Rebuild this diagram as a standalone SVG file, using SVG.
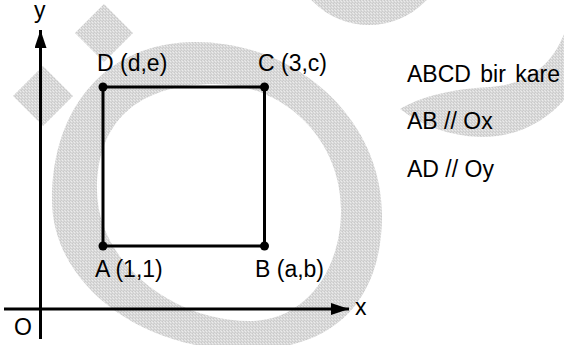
<svg xmlns="http://www.w3.org/2000/svg" width="564" height="345" viewBox="0 0 564 345">
  <style>
    .wm { fill: url(#stip); }
    .ln { stroke: #000; stroke-width: 3; fill: none; }
    .dot { fill: #000; }
    .t { font-family: "Liberation Sans", Arial, sans-serif; font-size: 23px; fill: #000; }
  </style>
  <defs>
    <pattern id="stip" width="3" height="3" patternUnits="userSpaceOnUse">
      <rect width="3" height="3" fill="#d8d8d8"/>
      <rect x="0" y="0" width="1" height="1" fill="#c8c8c8"/>
      <rect x="2" y="1" width="1" height="1" fill="#ececec"/>
      <rect x="1" y="2" width="1" height="1" fill="#cccccc"/>
      <rect x="1" y="0" width="1" height="1" fill="#e4e4e4"/>
    </pattern>
    <marker id="arr" viewBox="0 0 18 12" refX="18" refY="6" markerWidth="18" markerHeight="12" markerUnits="userSpaceOnUse" orient="auto">
      <path d="M0,0 L18,6 L0,12 Z" fill="#000"/>
    </marker>
  </defs>
  <rect width="564" height="345" fill="#fff"/>
  <g id="watermark">
    <path class="wm" fill-rule="evenodd" d="M195,42 C298,42 382,120 382,215 C382,301 334,350 245,350 C138,350 52,282 52,200 C52,105 109,42 195,42 Z M215,84 C138,84 97,121 97,190 C97,260 170,321 250,321 C303,321 341,273 341,210 C341,140 285,84 215,84 Z"/>
    <circle class="wm" cx="369" cy="-54" r="79"/>
    <path class="wm" d="M400,109 C420,97 450,89 490,87 C522,85 550,70 564,34 L564,100 C545,122 515,138 480,137 C450,136 422,126 400,109 Z"/>
    <polygon class="wm" points="104,4 133,33 104,62 75,33"/>
    <polygon class="wm" points="43,66 73,96 43,126 13,96"/>
  </g>
  <g id="axes">
    <line class="ln" x1="4" y1="309" x2="349" y2="309" marker-end="url(#arr)"/>
    <line class="ln" x1="40.5" y1="339" x2="40.5" y2="30" marker-end="url(#arr)"/>
    <text class="t" x="355" y="315">x</text>
    <text class="t" x="34" y="17.5">y</text>
    <text class="t" x="14" y="335">O</text>
  </g>
  <g id="connectors">
    <line class="ln" x1="103" y1="246" x2="264.5" y2="246"/>
    <line class="ln" x1="264.5" y1="246" x2="264.5" y2="87"/>
    <line class="ln" x1="264.5" y1="87" x2="103" y2="87"/>
    <line class="ln" x1="103" y1="87" x2="103" y2="246"/>
  </g>
  <g id="node-A">
    <circle class="dot" cx="103" cy="246" r="4.5"/>
    <text class="t" x="95" y="277">A (1,1)</text>
  </g>
  <g id="node-B">
    <circle class="dot" cx="264.5" cy="246" r="4.5"/>
    <text class="t" x="255" y="277">B (a,b)</text>
  </g>
  <g id="node-C">
    <circle class="dot" cx="264.5" cy="87" r="4.5"/>
    <text class="t" x="258" y="71">C (3,c)</text>
  </g>
  <g id="node-D">
    <circle class="dot" cx="103" cy="87" r="4.5"/>
    <text class="t" x="97" y="71">D (d,e)</text>
  </g>
  <g id="notes">
    <text class="t" x="407" y="81.5" word-spacing="3">ABCD bir kare</text>
    <text class="t" x="407" y="129">AB // Ox</text>
    <text class="t" x="407" y="177">AD // Oy</text>
  </g>
</svg>
